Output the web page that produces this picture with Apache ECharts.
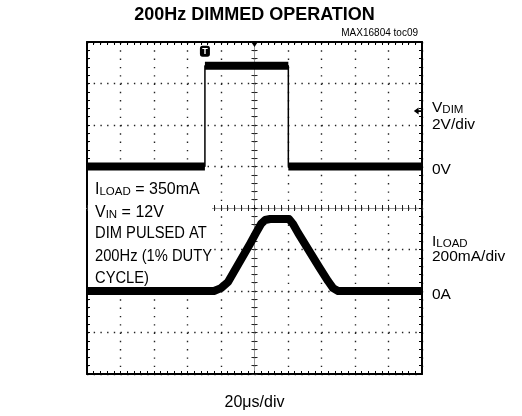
<!DOCTYPE html>
<html>
<head>
<meta charset="utf-8">
<script src="https://cdn.jsdelivr.net/npm/echarts@6/dist/echarts.min.js"></script>
<style>html,body{margin:0;padding:0;background:#fff}#c{width:522px;height:416px}</style>
</head>
<body>
<div id="c"></div>
<script>
// ---- data (time in µs, 20 µs/div, 10 div) ----
const vdimTime = [0, 70.4, 70.4, 120.2, 120.2, 200];
const vdimVolts = [0, 0, 4.85, 4.85, 0, 0];
const iloadTime = [0, 75.8, 80.0, 84.2, 97.3, 100.9, 103.9, 106.3, 109.3, 120.6, 123.0, 126.0, 138.5, 143.9, 146.9, 149.9, 200];
const iloadMilliamps = [0, 0, 14, 43, 227, 280, 323, 342, 347, 347, 323, 280, 116, 48, 14, 0, 0];
const titleText = '200Hz DIMMED OPERATION';
const noteText = 'MAX16804 toc09';
const xUnitText = '20\u03bcs/div';
const vdimScaleText = '2V/div';
const iloadScaleText = '200mA/div';
const vdimZeroText = '0V';
const iloadZeroText = '0A';
const conditionLines = ['DIM PULSED AT', '200Hz (1% DUTY', 'CYCLE)'];

const FONT = 'Liberation Sans, Arial, Helvetica, sans-serif';
const G = {left: 87, top: 42, width: 335, height: 332};

// thick trace for level parts, thin for vertical edges
const vdimAll = vdimTime.map((t, i) => [t, vdimVolts[i]]);
const vdimThick = [];
for (let i = 0; i < vdimAll.length; i++) {
  if (i > 0 && vdimAll[i][0] === vdimAll[i - 1][0]) vdimThick.push([vdimAll[i][0], null]);
  vdimThick.push(vdimAll[i]);
}
const iload = iloadTime.map((t, i) => [t, iloadMilliamps[i]]);

function borderAxis(extra) {
  return Object.assign({
    type: 'value', min: 0, max: 200, interval: 20, gridIndex: 0,
    axisLine: {show: true, onZero: false, lineStyle: {color: '#000', width: 2}},
    axisTick: {show: true, inside: true, length: 3, lineStyle: {color: '#000', width: 1}},
    minorTick: {show: true, splitNumber: 5, length: 3, lineStyle: {color: '#000', width: 1}},
    axisLabel: {show: false},
    splitLine: {show: false}
  }, extra);
}
function centerAxis(extra, inside) {
  return Object.assign({
    type: 'value', gridIndex: 0,
    axisLine: {show: true, onZero: false, lineStyle: {color: '#999', width: 1}},
    axisTick: {show: true, inside: inside, length: 3, lineStyle: {color: '#222', width: 1}},
    minorTick: {show: true, splitNumber: 5, length: 3, lineStyle: {color: '#222', width: 1}},
    axisLabel: {show: false},
    splitLine: {show: false}
  }, extra);
}

const chart = echarts.init(document.getElementById('c'), null, {renderer: 'canvas'});
chart.setOption({
  animation: false,
  backgroundColor: '#fff',
  grid: G,
  xAxis: [
    borderAxis({position: 'bottom', splitLine: {show: true, lineStyle: {color: '#222', width: 1.4, type: [1.4, 6.9]}}}),
    borderAxis({position: 'top'}),
    centerAxis({min: 0, max: 200, interval: 20, position: 'bottom', offset: -G.height / 2}, true),
    centerAxis({min: 0, max: 200, interval: 20, position: 'bottom', offset: -G.height / 2}, false)
  ],
  yAxis: [
    borderAxis({min: -10, max: 6, interval: 2, position: 'left', splitLine: {show: true, lineStyle: {color: '#222', width: 1.4, type: [1.4, 5.3]}}}),
    borderAxis({min: -400, max: 1200, interval: 200, position: 'right'}),
    centerAxis({min: -10, max: 6, interval: 2, position: 'left', offset: -G.width / 2}, true),
    centerAxis({min: -10, max: 6, interval: 2, position: 'left', offset: -G.width / 2}, false)
  ],
  series: [
    {
      type: 'line', xAxisIndex: 0, yAxisIndex: 0, data: vdimAll, symbol: 'none', z: 3,
      lineStyle: {color: '#000', width: 1.5},
      markPoint: {
        data: [
          {coord: [70.4, 5.55], symbol: 'roundRect', symbolSize: [10, 11],
            itemStyle: {color: '#000'},
            label: {show: true, formatter: 'T', color: '#fff', fontWeight: 'bold', fontSize: 9, fontFamily: FONT, position: 'inside'}},
          {coord: [100, 6], symbol: 'triangle', symbolRotate: 180, symbolSize: [8, 6], symbolOffset: [0, 2],
            itemStyle: {color: '#000'}, label: {show: false}},
          {coord: [197.5, 2.67], symbol: 'path://M0,4 L6,0 L6,3 L10,3 L10,5 L6,5 L6,8 Z', symbolSize: [8, 7],
            itemStyle: {color: '#000'}, label: {show: false}}
        ]
      }
    },
    {
      type: 'line', xAxisIndex: 0, yAxisIndex: 0, data: vdimThick, symbol: 'none', z: 3,
      connectNulls: false, lineStyle: {color: '#000', width: 8, cap: 'butt'}
    },
    {
      type: 'line', xAxisIndex: 0, yAxisIndex: 1, data: iload, symbol: 'none', z: 3,
      lineStyle: {color: '#000', width: 8, join: 'round'}
    }
  ],
  graphic: [
    {type: 'rect', z: 1, shape: {x: 88, y: 172, width: 124, height: 114}, style: {fill: '#fff'}},
    {type: 'text', z: 4, x: 95, y: 174.5, style: {
      text: '{n|I}{s|LOAD}{n| = 350mA}\n{n|V}{s|IN}{n| = 12V}',
      font: '16px ' + FONT, fill: '#000', lineHeight: 23,
      rich: {
        n: {fontSize: 16, fontFamily: FONT, lineHeight: 23, verticalAlign: 'bottom', fill: '#000'},
        s: {fontSize: 11.5, fontFamily: FONT, lineHeight: 14, verticalAlign: 'bottom', fill: '#000'}
      }
    }},
    {type: 'text', z: 4, x: 95, y: 222.5, scaleX: 0.92, originX: 0, style: {
      text: conditionLines.join('\n'), font: '16px ' + FONT, fill: '#000', lineHeight: 22.5
    }},
    {type: 'text', z: 4, x: 254.5, y: 15, style: {text: titleText, font: 'bold 18px ' + FONT, fill: '#000', textAlign: 'center', textVerticalAlign: 'middle'}},
    {type: 'text', z: 4, x: 418, y: 33, style: {text: noteText, font: '10px ' + FONT, fill: '#000', textAlign: 'right', textVerticalAlign: 'middle'}},
    {type: 'text', z: 4, x: 254.5, y: 403, style: {text: xUnitText, font: '16px ' + FONT, fill: '#000', textAlign: 'center', textVerticalAlign: 'middle'}},
    {type: 'text', z: 4, x: 432, y: 96, style: {
      text: '{n|V}{s|DIM}', font: '15px ' + FONT, fill: '#000',
      rich: {n: {fontSize: 15.5, fontFamily: FONT, lineHeight: 20, verticalAlign: 'bottom'}, s: {fontSize: 11.5, fontFamily: FONT, lineHeight: 12, verticalAlign: 'bottom'}}
    }},
    {type: 'text', z: 4, x: 432, y: 125, style: {text: vdimScaleText, font: '15.5px ' + FONT, fill: '#000', textVerticalAlign: 'middle'}},
    {type: 'text', z: 4, x: 432, y: 170, style: {text: vdimZeroText, font: '15.5px ' + FONT, fill: '#000', textVerticalAlign: 'middle'}},
    {type: 'text', z: 4, x: 432, y: 230, style: {
      text: '{n|I}{s|LOAD}', font: '15px ' + FONT, fill: '#000',
      rich: {n: {fontSize: 15.5, fontFamily: FONT, lineHeight: 20, verticalAlign: 'bottom'}, s: {fontSize: 11.5, fontFamily: FONT, lineHeight: 12, verticalAlign: 'bottom'}}
    }},
    {type: 'text', z: 4, x: 432, y: 257, style: {text: iloadScaleText, font: '15.5px ' + FONT, fill: '#000', textVerticalAlign: 'middle'}},
    {type: 'text', z: 4, x: 432, y: 295, style: {text: iloadZeroText, font: '15.5px ' + FONT, fill: '#000', textVerticalAlign: 'middle'}}
  ]
});
</script>
</body>
</html>
